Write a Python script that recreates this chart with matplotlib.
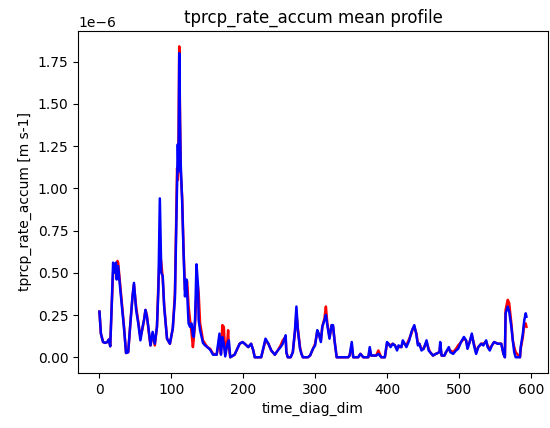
import matplotlib
matplotlib.use("Agg")
import numpy as np
from matplotlib import pyplot as plt

# time index (time_diag_dim) of the points
time_idx = [
    0, 2, 5, 8, 11, 13, 15, 17, 19, 21, 23, 24, 25, 26, 29, 34, 37, 40, 43, 46,
    48, 51, 54, 57, 60, 62, 64, 66, 68, 71, 74, 77, 80, 82, 84, 86, 88, 90, 94, 98,
    102, 105, 107, 108, 109, 110, 111, 112, 113, 115, 117, 119, 121, 122, 124, 126, 128, 130, 131, 133,
    135, 137, 138, 140, 144, 147, 150, 154, 158, 163, 167, 169, 171, 173, 175, 178, 179, 180, 182, 188,
    195, 199, 202, 207, 211, 214, 216, 225, 231, 235, 239, 244, 248, 252, 255, 259, 260, 262, 266, 269,
    272, 274, 276, 279, 281, 283, 290, 293, 297, 300, 303, 305, 308, 310, 313, 315, 317, 320, 323, 325,
    327, 330, 346, 348, 351, 353, 360, 363, 367, 374, 376, 378, 385, 388, 392, 397, 400, 402, 405, 408,
    411, 414, 416, 420, 422, 427, 431, 434, 436, 438, 441, 443, 445, 448, 451, 455, 458, 460, 464, 468,
    473, 474, 476, 480, 482, 486, 488, 492, 496, 499, 503, 507, 510, 512, 515, 518, 521, 524, 527, 531,
    534, 538, 540, 543, 546, 549, 554, 559, 562, 564, 565, 568, 570, 573, 575, 577, 579, 585, 586, 589,
    591, 593, 594,
]

# second run (blue), units of 1e-6 m s-1
blue_vals = [
    0.27, 0.14, 0.09, 0.085, 0.09, 0.105, 0.065, 0.30, 0.56, 0.50, 0.56, 0.46, 0.50, 0.54, 0.40, 0.18, 0.025, 0.03, 0.20, 0.36,
    0.44, 0.28, 0.20, 0.10, 0.18, 0.22, 0.28, 0.24, 0.18, 0.07, 0.15, 0.08, 0.18, 0.40, 0.94, 0.50, 0.48, 0.30, 0.11, 0.08,
    0.17, 0.35, 0.80, 1.05, 1.26, 1.10, 1.80, 1.40, 1.15, 0.93, 0.62, 0.36, 0.46, 0.38, 0.20, 0.18, 0.20, 0.13, 0.12, 0.22,
    0.55, 0.43, 0.22, 0.16, 0.085, 0.07, 0.06, 0.045, 0.015, 0.015, 0.14, 0.015, 0.12, 0.08, 0.005, 0.08, 0.09, 0.10, 0.0, 0.015,
    0.08, 0.09, 0.08, 0.06, 0.08, 0.04, 0.0, 0.0, 0.11, 0.08, 0.04, 0.015, 0.04, 0.06, 0.08, 0.13, 0.03, 0.0, 0.0, 0.03,
    0.16, 0.30, 0.16, 0.05, 0.02, 0.0, 0.0, 0.01, 0.05, 0.07, 0.16, 0.14, 0.09, 0.18, 0.22, 0.25, 0.19, 0.11, 0.19, 0.19,
    0.10, 0.0, 0.0, 0.01, 0.09, 0.0, 0.0, 0.02, 0.0, 0.0, 0.06, 0.01, 0.01, 0.02, 0.0, 0.0, 0.09, 0.08, 0.06, 0.08,
    0.07, 0.04, 0.07, 0.06, 0.10, 0.06, 0.10, 0.15, 0.17, 0.19, 0.13, 0.07, 0.08, 0.04, 0.05, 0.10, 0.04, 0.03, 0.01, 0.02,
    0.03, 0.09, 0.01, 0.01, 0.03, 0.06, 0.03, 0.02, 0.04, 0.05, 0.09, 0.12, 0.10, 0.05, 0.09, 0.14, 0.07, 0.02, 0.06, 0.08,
    0.07, 0.10, 0.06, 0.04, 0.07, 0.09, 0.08, 0.08, 0.02, 0.0, 0.26, 0.30, 0.27, 0.18, 0.10, 0.03, 0.0, 0.0, 0.06, 0.14,
    0.22, 0.26, 0.24,
]

# first run (red), units of 1e-6 m s-1
red_vals = [
    0.27, 0.14, 0.09, 0.085, 0.09, 0.105, 0.065, 0.30, 0.50, 0.52, 0.50, 0.48, 0.57, 0.56, 0.42, 0.19, 0.025, 0.03, 0.20, 0.36,
    0.43, 0.30, 0.21, 0.12, 0.17, 0.22, 0.28, 0.25, 0.17, 0.07, 0.14, 0.07, 0.18, 0.44, 0.62, 0.56, 0.47, 0.31, 0.11, 0.08,
    0.17, 0.38, 0.90, 1.12, 1.05, 1.30, 1.84, 1.45, 1.10, 0.95, 0.64, 0.40, 0.45, 0.45, 0.30, 0.22, 0.15, 0.06, 0.10, 0.20,
    0.40, 0.42, 0.38, 0.20, 0.10, 0.08, 0.06, 0.05, 0.02, 0.015, 0.10, 0.02, 0.19, 0.18, 0.02, 0.10, 0.16, 0.06, 0.0, 0.015,
    0.08, 0.09, 0.08, 0.06, 0.08, 0.04, 0.0, 0.0, 0.10, 0.08, 0.04, 0.015, 0.04, 0.07, 0.10, 0.12, 0.03, 0.0, 0.0, 0.03,
    0.15, 0.26, 0.17, 0.06, 0.02, 0.0, 0.0, 0.01, 0.05, 0.08, 0.15, 0.14, 0.10, 0.18, 0.23, 0.30, 0.20, 0.12, 0.19, 0.18,
    0.10, 0.0, 0.0, 0.01, 0.07, 0.0, 0.0, 0.02, 0.0, 0.0, 0.04, 0.01, 0.01, 0.04, 0.0, 0.0, 0.08, 0.08, 0.07, 0.08,
    0.07, 0.05, 0.06, 0.06, 0.09, 0.07, 0.11, 0.14, 0.17, 0.18, 0.14, 0.08, 0.08, 0.05, 0.05, 0.09, 0.05, 0.03, 0.01, 0.02,
    0.03, 0.07, 0.01, 0.01, 0.03, 0.05, 0.04, 0.03, 0.05, 0.07, 0.09, 0.11, 0.10, 0.06, 0.09, 0.13, 0.08, 0.03, 0.06, 0.08,
    0.08, 0.09, 0.07, 0.05, 0.07, 0.09, 0.08, 0.08, 0.02, 0.0, 0.28, 0.34, 0.32, 0.20, 0.10, 0.06, 0.03, 0.0, 0.05, 0.12,
    0.20, 0.20, 0.18,
]

x = np.array(time_idx)
blue = np.array(blue_vals) * 1e-6
red = np.array(red_vals) * 1e-6

fig = plt.figure(figsize=(5.5, 4.28), dpi=100)
ax = fig.add_subplot(111)
fig.subplots_adjust(left=0.142, right=0.996, top=0.928, bottom=0.129)

ax.plot(x, red, color='red', linewidth=1.8)
ax.plot(x, blue, color='blue', linewidth=1.8)

ax.set_title('tprcp_rate_accum mean profile')
ax.set_xlabel('time_diag_dim')
ax.set_ylabel('tprcp_rate_accum [m s-1]')

fig.savefig('out.png', dpi=100)
